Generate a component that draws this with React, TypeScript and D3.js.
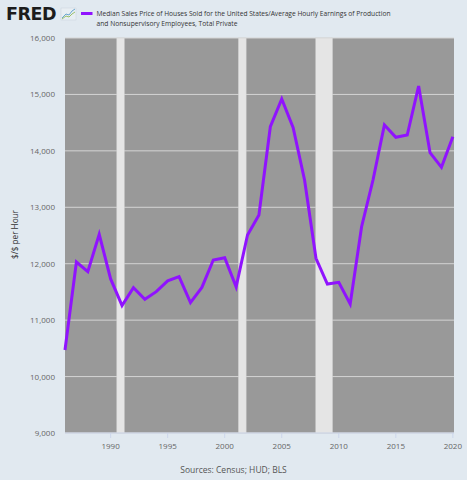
import React from "react";
import * as d3 from "d3";

const years = [1986,1987,1988,1989,1990,1991,1992,1993,1994,1995,1996,1997,1998,1999,2000,2001,2002,2003,2004,2005,2006,2007,2008,2009,2010,2011,2012,2013,2014,2015,2016,2017,2018,2019,2020];
const values = [10470,12030,11860,12520,11730,11260,11575,11370,11505,11695,11770,11310,11580,12065,12107,11590,12509,12863,14428,14919,14410,13483,12096,11640,11670,11286,12656,13483,14458,14240,14281,15149,13967,13708,14251];
const yTicks = [9000,10000,11000,12000,13000,14000,15000,16000];
const xTicks = [1990,1995,2000,2005,2010,2015,2020];
const recessions: [number, number][] = [[1990.54, 1991.2], [2001.2, 2001.88], [2007.98, 2009.45], [2020.1, 2020.3]];

const W = 467, H = 480;
const L = 65, R = 454, T = 38, B = 433;

export default function App() {
  const x = d3.scaleLinear().domain([1986, 2020.1]).range([L, R]);
  const y = d3.scaleLinear().domain([9000, 16000]).range([B, T]);
  const line = d3.line<number>().x((_, i) => x(years[i])).y((d) => y(d));
  const font = "'Open Sans', 'DejaVu Sans', sans-serif";
  return (
    <svg width={W} height={H} style={{ position: "absolute", left: 0, top: 0 }} fontFamily={font}>
      <rect x={0} y={0} width={W} height={H} fill="#e1e9f0" />
      {/* FRED logo */}
      <text x={6} y={20} fontSize={17.5} fontWeight={800} fill="#1c1c1c" fontFamily="'DejaVu Sans', sans-serif" letterSpacing={-0.5}>FRED</text>
      <rect x={61} y={8} width={15} height={12} fill="#e8eef3" stroke="#c9d3dc" strokeWidth={0.5} />
      <polyline points="62,18 66,14 69,15 72,11 75,9" fill="none" stroke="#6aa6cf" strokeWidth={1} />
      <polyline points="62,19 66,16 69,17 72,14 75,12" fill="none" stroke="#9ac06a" strokeWidth={1} />
      {/* legend */}
      <rect x={81} y={12} width={11.5} height={3} fill="#9013fe" />
      <text x={96.5} y={15.7} fontSize={7.8} fill="#333" textLength={294} lengthAdjust="spacingAndGlyphs">Median Sales Price of Houses Sold for the United States/Average Hourly Earnings of Production</text>
      <text x={96.5} y={25.7} fontSize={7.8} fill="#333" textLength={141} lengthAdjust="spacingAndGlyphs">and Nonsupervisory Employees, Total Private</text>
      {/* plot */}
      <rect x={L} y={T} width={R - L} height={B - T} fill="#999999" />
      {yTicks.map((t) => (
        <line key={t} x1={L} x2={R} y1={y(t)} y2={y(t)} stroke="#d4d4d4" strokeWidth={1} />
      ))}
      {recessions.map(([a, b], i) => {
        const x0 = Math.max(L, x(a));
        const x1 = Math.min(R, x(b));
        if (x1 <= x0) return null;
        return <rect key={i} x={x0} y={T} width={x1 - x0} height={B - T} fill="#e5e5e5" stroke="#cfcfcf" strokeWidth={0.5} />;
      })}
      <line x1={L} x2={R} y1={B} y2={B} stroke="#ccd6eb" strokeWidth={1} />
      {xTicks.map((t) => (
        <g key={t}>
          <line x1={x(t)} x2={x(t)} y1={B} y2={B + 5} stroke="#ccd6eb" strokeWidth={1} />
          <text x={x(t)} y={B + 16} fontSize={8} fill="#666" textAnchor="middle">{t}</text>
        </g>
      ))}
      {yTicks.map((t) => (
        <text key={t} x={55} y={y(t) + 3} fontSize={8} fill="#666" textAnchor="end">{d3.format(",")(t)}</text>
      ))}
      <text transform={`translate(18,${(T + B) / 2 - 1}) rotate(-90)`} fontSize={8.2} fill="#333" textAnchor="middle">$/$ per Hour</text>
      <path d={line(values) || ""} fill="none" stroke="#9013fe" strokeWidth={3} strokeLinejoin="miter" />
      <text x={W / 2} y={473} fontSize={8.5} fill="#555" textAnchor="middle">Sources: Census; HUD; BLS</text>
    </svg>
  );
}
